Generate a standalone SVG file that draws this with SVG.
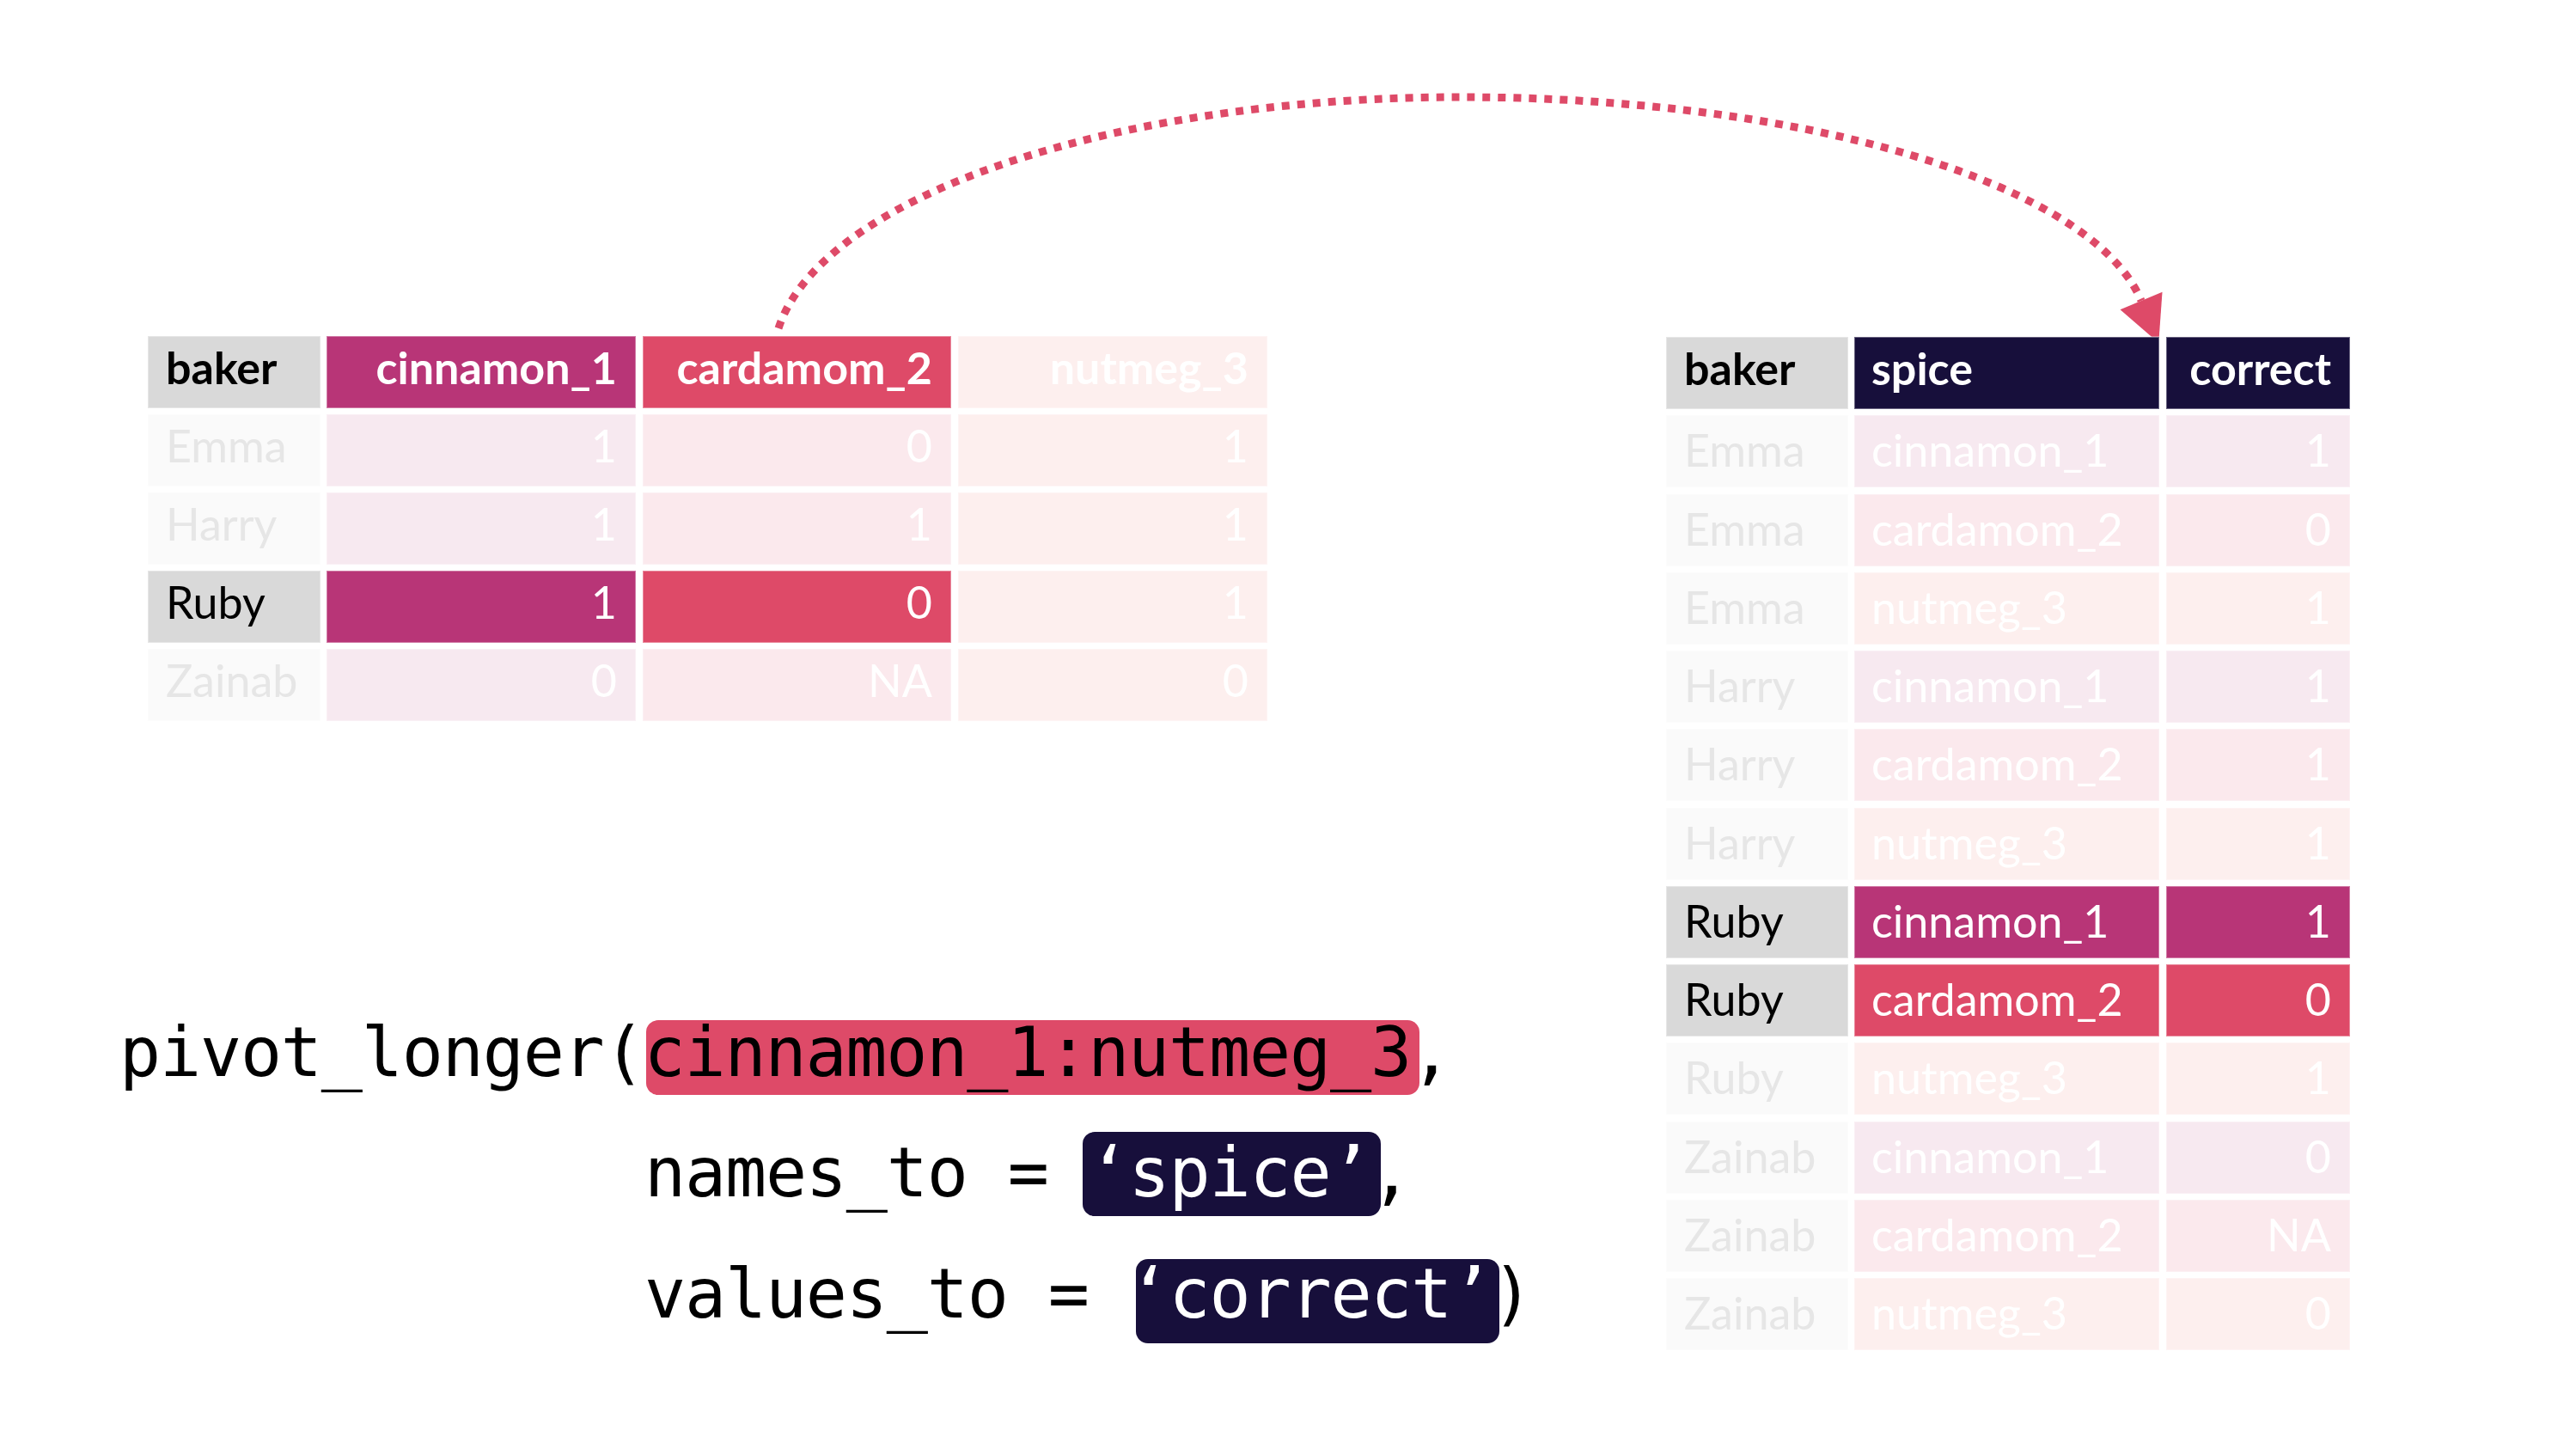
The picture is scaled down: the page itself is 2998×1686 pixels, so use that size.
<svg xmlns="http://www.w3.org/2000/svg" width="2998" height="1686" viewBox="0 0 2998 1686">
<defs>
<style>
.c{stroke:#ffffff;stroke-opacity:0.35;stroke-width:2}
.bk{fill:#d9d9d9}
.bkf{fill:#fafafa}
.mag{fill:#b83577}
.red{fill:#de4a68}
.navy{fill:#170f3b}
.pc{fill:#f7e9f0}
.pr{fill:#fbe9ed}
.pn{fill:#fdefee}
.t{font-family:Lato,"Noto Sans","Liberation Sans",sans-serif;font-size:52px}
.b{font-weight:bold}
.k{fill:#000000}
.w{fill:#ffffff}
.g{fill:#e6e6e6}
.e{text-anchor:end}
.code{font-family:"DejaVu Sans Mono","Liberation Mono",monospace;font-size:80px;letter-spacing:-1.2px;fill:#000000}
</style>
<marker id="ah" markerUnits="userSpaceOnUse" markerWidth="60" markerHeight="60" refX="0" refY="0" viewBox="-2 -26 50 52" orient="auto">
<path d="M0,-23 L46,0 L0,23 z" fill="#de4a68"/>
</marker>
</defs>
<rect width="2998" height="1686" fill="#ffffff"/>

<g id="connectors">
<path d="M906,382 A800,307 0 0 1 1700,113 A800,276 0 0 1 2492,350" fill="none" stroke="#de4a68" stroke-width="9" stroke-dasharray="9 9" marker-end="url(#ah)"/>
</g>

<g id="wide-table">
<g id="wide-header">
<rect class="c bk" x="172" y="391" width="201" height="84"/><text class="t b k" x="193" y="447">baker</text>
<rect class="c mag" x="380" y="391" width="360" height="84"/><text class="t b w e" x="718" y="447">cinnamon_1</text>
<rect class="c red" x="748" y="391" width="359" height="84"/><text class="t b w e" x="1085" y="447">cardamom_2</text>
<rect class="c pn" x="1115" y="391" width="360" height="84"/><text class="t b w e" x="1453" y="447">nutmeg_3</text>
</g>
<g id="wide-emma">
<rect class="c bkf" x="172" y="482" width="201" height="84"/><text class="t g" x="193" y="538">Emma</text>
<rect class="c pc" x="380" y="482" width="360" height="84"/><text class="t w e" x="718" y="538">1</text>
<rect class="c pr" x="748" y="482" width="359" height="84"/><text class="t w e" x="1085" y="538">0</text>
<rect class="c pn" x="1115" y="482" width="360" height="84"/><text class="t w e" x="1453" y="538">1</text>
</g>
<g id="wide-harry">
<rect class="c bkf" x="172" y="573" width="201" height="84"/><text class="t g" x="193" y="629">Harry</text>
<rect class="c pc" x="380" y="573" width="360" height="84"/><text class="t w e" x="718" y="629">1</text>
<rect class="c pr" x="748" y="573" width="359" height="84"/><text class="t w e" x="1085" y="629">1</text>
<rect class="c pn" x="1115" y="573" width="360" height="84"/><text class="t w e" x="1453" y="629">1</text>
</g>
<g id="wide-ruby">
<rect class="c bk" x="172" y="664" width="201" height="84"/><text class="t k" x="193" y="720">Ruby</text>
<rect class="c mag" x="380" y="664" width="360" height="84"/><text class="t w e" x="718" y="720">1</text>
<rect class="c red" x="748" y="664" width="359" height="84"/><text class="t w e" x="1085" y="720">0</text>
<rect class="c pn" x="1115" y="664" width="360" height="84"/><text class="t w e" x="1453" y="720">1</text>
</g>
<g id="wide-zainab">
<rect class="c bkf" x="172" y="755" width="201" height="84"/><text class="t g" x="193" y="811">Zainab</text>
<rect class="c pc" x="380" y="755" width="360" height="84"/><text class="t w e" x="718" y="811">0</text>
<rect class="c pr" x="748" y="755" width="359" height="84"/><text class="t w e" x="1085" y="811">NA</text>
<rect class="c pn" x="1115" y="755" width="360" height="84"/><text class="t w e" x="1453" y="811">0</text>
</g>
</g>

<g id="long-table">
<g id="long-header">
<rect class="c bk" x="1939" y="392" width="212" height="84"/><text class="t b k" x="1960" y="448">baker</text>
<rect class="c navy" x="2158" y="392" width="355" height="84"/><text class="t b w" x="2178" y="448">spice</text>
<rect class="c navy" x="2521" y="392" width="214" height="84"/><text class="t b w e" x="2713" y="448">correct</text>
</g>
<g id="long-r1">
<rect class="c bkf" x="1939" y="483" width="212" height="84"/><text class="t g" x="1960" y="543">Emma</text>
<rect class="c pc" x="2158" y="483" width="355" height="84"/><text class="t w" x="2178" y="543">cinnamon_1</text>
<rect class="c pc" x="2521" y="483" width="214" height="84"/><text class="t w e" x="2713" y="543">1</text>
</g>
<g id="long-r2">
<rect class="c bkf" x="1939" y="575" width="212" height="84"/><text class="t g" x="1960" y="635">Emma</text>
<rect class="c pr" x="2158" y="575" width="355" height="84"/><text class="t w" x="2178" y="635">cardamom_2</text>
<rect class="c pr" x="2521" y="575" width="214" height="84"/><text class="t w e" x="2713" y="635">0</text>
</g>
<g id="long-r3">
<rect class="c bkf" x="1939" y="666" width="212" height="84"/><text class="t g" x="1960" y="726">Emma</text>
<rect class="c pn" x="2158" y="666" width="355" height="84"/><text class="t w" x="2178" y="726">nutmeg_3</text>
<rect class="c pn" x="2521" y="666" width="214" height="84"/><text class="t w e" x="2713" y="726">1</text>
</g>
<g id="long-r4">
<rect class="c bkf" x="1939" y="757" width="212" height="84"/><text class="t g" x="1960" y="817">Harry</text>
<rect class="c pc" x="2158" y="757" width="355" height="84"/><text class="t w" x="2178" y="817">cinnamon_1</text>
<rect class="c pc" x="2521" y="757" width="214" height="84"/><text class="t w e" x="2713" y="817">1</text>
</g>
<g id="long-r5">
<rect class="c bkf" x="1939" y="848" width="212" height="84"/><text class="t g" x="1960" y="908">Harry</text>
<rect class="c pr" x="2158" y="848" width="355" height="84"/><text class="t w" x="2178" y="908">cardamom_2</text>
<rect class="c pr" x="2521" y="848" width="214" height="84"/><text class="t w e" x="2713" y="908">1</text>
</g>
<g id="long-r6">
<rect class="c bkf" x="1939" y="940" width="212" height="84"/><text class="t g" x="1960" y="1000">Harry</text>
<rect class="c pn" x="2158" y="940" width="355" height="84"/><text class="t w" x="2178" y="1000">nutmeg_3</text>
<rect class="c pn" x="2521" y="940" width="214" height="84"/><text class="t w e" x="2713" y="1000">1</text>
</g>
<g id="long-r7">
<rect class="c bk" x="1939" y="1031" width="212" height="84"/><text class="t k" x="1960" y="1091">Ruby</text>
<rect class="c mag" x="2158" y="1031" width="355" height="84"/><text class="t w" x="2178" y="1091">cinnamon_1</text>
<rect class="c mag" x="2521" y="1031" width="214" height="84"/><text class="t w e" x="2713" y="1091">1</text>
</g>
<g id="long-r8">
<rect class="c bk" x="1939" y="1122" width="212" height="84"/><text class="t k" x="1960" y="1182">Ruby</text>
<rect class="c red" x="2158" y="1122" width="355" height="84"/><text class="t w" x="2178" y="1182">cardamom_2</text>
<rect class="c red" x="2521" y="1122" width="214" height="84"/><text class="t w e" x="2713" y="1182">0</text>
</g>
<g id="long-r9">
<rect class="c bkf" x="1939" y="1213" width="212" height="84"/><text class="t g" x="1960" y="1273">Ruby</text>
<rect class="c pn" x="2158" y="1213" width="355" height="84"/><text class="t w" x="2178" y="1273">nutmeg_3</text>
<rect class="c pn" x="2521" y="1213" width="214" height="84"/><text class="t w e" x="2713" y="1273">1</text>
</g>
<g id="long-r10">
<rect class="c bkf" x="1939" y="1305" width="212" height="84"/><text class="t g" x="1960" y="1365">Zainab</text>
<rect class="c pc" x="2158" y="1305" width="355" height="84"/><text class="t w" x="2178" y="1365">cinnamon_1</text>
<rect class="c pc" x="2521" y="1305" width="214" height="84"/><text class="t w e" x="2713" y="1365">0</text>
</g>
<g id="long-r11">
<rect class="c bkf" x="1939" y="1396" width="212" height="84"/><text class="t g" x="1960" y="1456">Zainab</text>
<rect class="c pr" x="2158" y="1396" width="355" height="84"/><text class="t w" x="2178" y="1456">cardamom_2</text>
<rect class="c pr" x="2521" y="1396" width="214" height="84"/><text class="t w e" x="2713" y="1456">NA</text>
</g>
<g id="long-r12">
<rect class="c bkf" x="1939" y="1487" width="212" height="84"/><text class="t g" x="1960" y="1547">Zainab</text>
<rect class="c pn" x="2158" y="1487" width="355" height="84"/><text class="t w" x="2178" y="1547">nutmeg_3</text>
<rect class="c pn" x="2521" y="1487" width="214" height="84"/><text class="t w e" x="2713" y="1547">0</text>
</g>
</g>

<g id="code">
<rect x="752" y="1187" width="900" height="87" rx="14" fill="#de4a68"/>
<rect x="1260" y="1317" width="347" height="98" rx="14" fill="#170f3b"/>
<rect x="1322" y="1465" width="423" height="98" rx="14" fill="#170f3b"/>
<text class="code" x="139" y="1252" xml:space="preserve">pivot_longer(cinnamon_1:nutmeg_3,</text>
<text class="code" x="750" y="1392" xml:space="preserve">names_to = <tspan fill="#ffffff">‘spice’</tspan>,</text>
<text class="code" x="750" y="1533" xml:space="preserve">values_to = <tspan fill="#ffffff">‘correct’</tspan>)</text>
</g>
</svg>
